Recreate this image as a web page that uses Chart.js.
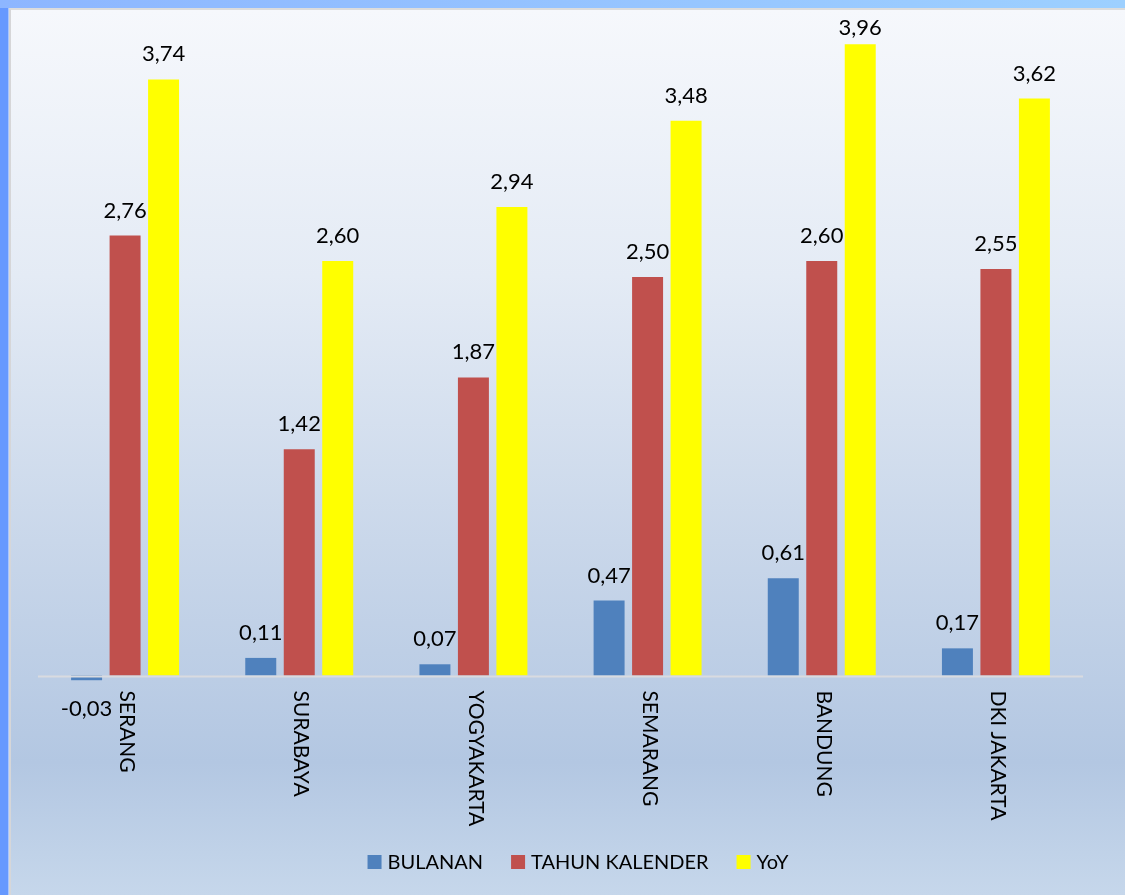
<!DOCTYPE html>
<html>
<head>
<meta charset="utf-8">
<title>Inflasi</title>
<script src="https://cdn.jsdelivr.net/npm/chart.js@4.4.1/dist/chart.umd.min.js"></script>
<style>
  html, body { margin: 0; padding: 0; }
  body { width: 1125px; height: 895px; position: relative; overflow: hidden; background: #6699ff; }
  #topStrip { position: absolute; left: 0; top: 0; width: 1125px; height: 8px;
    background: linear-gradient(to right, #8db6ff, #9dd0ff); }
  #leftStrip { position: absolute; left: 0; top: 8px; width: 8px; height: 887px;
    background: #6699ff; border-right: 1px solid #a8c6ff; }
  #panel { position: absolute; left: 9px; top: 8px; width: 1116px; height: 887px;
    box-sizing: border-box; border-left: 2px solid #d6d6d8; border-top: 2px solid #dcdcdc;
    background: linear-gradient(to bottom, #f6f8fc 0%, #e4ebf5 30%, #c9d7ea 60%, #b3c7e2 85%, #c6d7eb 100%); }
  #wrap { position: absolute; left: 0; top: 0; width: 1125px; height: 895px; }
</style>
</head>
<body>
<div id="topStrip"></div>
<div id="leftStrip"></div>
<div id="panel"></div>
<div id="wrap"><canvas id="inflasiChart"></canvas></div>
<script>
// data
var categories = ['SERANG', 'SURABAYA', 'YOGYAKARTA', 'SEMARANG', 'BANDUNG', 'DKI JAKARTA'];
var seriesNames = ['BULANAN', 'TAHUN KALENDER', 'YoY'];
var bulanan = [-0.03, 0.11, 0.07, 0.47, 0.61, 0.17];
var tahunKalender = [2.76, 1.42, 1.87, 2.50, 2.60, 2.55];
var yoy = [3.74, 2.60, 2.94, 3.48, 3.96, 3.62];

var colors = ['#4f81bd', '#c0504d', '#ffff00'];
var fontFamily = 'Lato, "Open Sans", sans-serif';

function fmt(v) {
  return v.toFixed(2).replace('.', ',');
}

// value labels, category labels, zero line and legend
var decorPlugin = {
  id: 'decor',
  afterDatasetsDraw: function(chart) {
    var ctx = chart.ctx;
    var area = chart.chartArea;
    var yScale = chart.scales.y;
    var xScale = chart.scales.x;
    var zeroY = yScale.getPixelForValue(0);

    // zero axis line
    ctx.save();
    ctx.strokeStyle = '#d9dbe0';
    ctx.lineWidth = 2;
    ctx.beginPath();
    ctx.moveTo(area.left, zeroY + 1);
    ctx.lineTo(area.right, zeroY + 1);
    ctx.stroke();
    ctx.restore();

    // value labels (kept inside the plot, like the original)
    ctx.save();
    ctx.fillStyle = '#000';
    ctx.font = '22px ' + fontFamily;
    ctx.textAlign = 'center';
    chart.data.datasets.forEach(function(ds, i) {
      var meta = chart.getDatasetMeta(i);
      meta.data.forEach(function(bar, j) {
        var v = ds.data[j];
        if (v >= 0) {
          ctx.textBaseline = 'alphabetic';
          ctx.fillText(fmt(v), bar.x, Math.max(bar.y - 18, area.top - 3));
        } else {
          ctx.textBaseline = 'top';
          ctx.fillText(fmt(v), bar.x, bar.y + 18);
        }
      });
    });
    ctx.restore();

    // category labels, rotated clockwise
    ctx.save();
    ctx.fillStyle = '#000';
    ctx.font = '21px ' + fontFamily;
    ctx.textAlign = 'left';
    ctx.textBaseline = 'middle';
    categories.forEach(function(c, j) {
      var x = xScale.getPixelForValue(j);
      ctx.save();
      ctx.translate(x + 2, zeroY + 15);
      ctx.rotate(Math.PI / 2);
      ctx.fillText(c, 0, 0);
      ctx.restore();
    });
    ctx.restore();

    // legend
    ctx.save();
    ctx.font = '20px ' + fontFamily;
    ctx.textBaseline = 'middle';
    ctx.textAlign = 'left';
    var box = 14, boxGap = 6, itemGap = 28;
    var widths = seriesNames.map(function(n) { return box + boxGap + ctx.measureText(n).width; });
    var total = widths.reduce(function(a, b) { return a + b; }, 0) + itemGap * (widths.length - 1);
    var lx = 578 - total / 2;
    var ly = 862;
    seriesNames.forEach(function(n, i) {
      ctx.fillStyle = colors[i];
      ctx.fillRect(lx, ly - box / 2, box, box);
      ctx.fillStyle = '#000';
      ctx.fillText(n, lx + box + boxGap, ly + 1);
      lx += widths[i] + itemGap;
    });
    ctx.restore();
  }
};

var chartCtx = document.getElementById('inflasiChart').getContext('2d');
var inflasiChart = new Chart(chartCtx, {
  type: 'bar',
  data: {
    labels: categories,
    datasets: [
      { label: seriesNames[0], data: bulanan, backgroundColor: colors[0] },
      { label: seriesNames[1], data: tahunKalender, backgroundColor: colors[1] },
      { label: seriesNames[2], data: yoy, backgroundColor: colors[2] }
    ]
  },
  options: {
    responsive: true,
    maintainAspectRatio: false,
    animation: false,
    layout: { padding: { left: 38, right: 42, top: 38, bottom: 210 } },
    datasets: {
      bar: { categoryPercentage: 0.663, barPercentage: 0.805 }
    },
    scales: {
      x: { display: false },
      y: { display: false, min: -0.06, max: 4.0 }
    },
    plugins: {
      legend: { display: false },
      tooltip: { enabled: false }
    }
  },
  plugins: [decorPlugin]
});
</script>
</body>
</html>
